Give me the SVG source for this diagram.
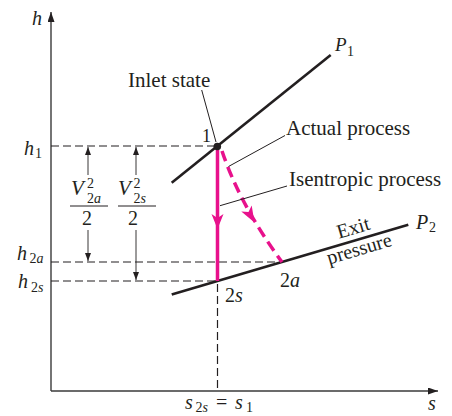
<svg xmlns="http://www.w3.org/2000/svg" width="452" height="416" viewBox="0 0 452 416">
<style>
text{font-family:"Liberation Serif","Times New Roman",serif;fill:#231f20}
.lbl{font-size:21px}
.m{font-size:20px}
.i{font-style:italic}
.sub{font-size:14px}
.axis{stroke:#3a3a3a;stroke-width:1.4;fill:none}
.dash{stroke:#231f20;stroke-width:1.2;stroke-dasharray:8 4;fill:none}
.iso{stroke:#231f20;stroke-width:2.6;fill:none}
.lead{stroke:#231f20;stroke-width:1;fill:none}
.mg{stroke:#e8118c;stroke-width:3.5;fill:none}
.mgd{stroke:#e8118c;stroke-width:3.5;fill:none;stroke-dasharray:11 6}
.mgf{fill:#e8118c}
.dim{stroke:#231f20;stroke-width:0.9;fill:none}
.bar{stroke:#231f20;stroke-width:1}
</style>
<defs>
<marker id="ax" viewBox="0 0 10 7" refX="10" refY="3.5" markerWidth="10" markerHeight="7" markerUnits="userSpaceOnUse" orient="auto">
<path d="M0,0 L10,3.5 L0,7 Z" fill="#231f20"/>
</marker>
<marker id="da" viewBox="0 0 8 6" refX="8" refY="3" markerWidth="8" markerHeight="6" markerUnits="userSpaceOnUse" orient="auto">
<path d="M0,0 L8,3 L0,6 Z" fill="#231f20"/>
</marker>
</defs>

<g id="axes">
<line class="axis" x1="51" y1="391" x2="51" y2="12" marker-end="url(#ax)"/>
<line class="axis" x1="51" y1="391" x2="438" y2="391" marker-end="url(#ax)"/>
<text class="m i" x="32" y="25">h</text>
<text class="m i" x="428" y="410">s</text>
<text class="m"><tspan class="i" x="185" y="408.5">s</tspan><tspan class="sub" x="195.5" y="412">2</tspan><tspan class="sub i" y="412">s</tspan><tspan x="216" y="408.5">=</tspan><tspan class="i" x="235" y="408.5">s</tspan><tspan class="sub" x="246" y="412">1</tspan></text>
</g>

<g id="guides">
<line class="dash" x1="51" y1="146" x2="214" y2="146"/>
<line class="dash" x1="51" y1="262" x2="282" y2="262"/>
<line class="dash" x1="51" y1="281" x2="217" y2="281"/>
<line class="dash" x1="217.5" y1="284" x2="217.5" y2="391"/>
<text class="m i" x="24" y="155">h</text><text class="sub" x="35" y="158">1</text>
<text class="m i" x="17" y="260">h</text><text class="sub" x="29.5" y="263">2<tspan class="i">a</tspan></text>
<text class="m i" x="18" y="288">h</text><text class="sub" x="31" y="292">2<tspan class="i">s</tspan></text>
</g>

<g id="velocity-2a">
<line class="dim" x1="88" y1="175" x2="88" y2="147" marker-end="url(#da)"/>
<line class="dim" x1="88" y1="230" x2="88" y2="261" marker-end="url(#da)"/>
<text class="lbl i" x="71" y="195">V</text>
<text class="sub" x="87" y="188">2</text>
<text class="sub" x="87" y="202.5">2<tspan class="i">a</tspan></text>
<line class="bar" x1="70" y1="206" x2="108" y2="206"/>
<text class="m" x="87" y="225" text-anchor="middle">2</text>
</g>

<g id="velocity-2s">
<line class="dim" x1="136" y1="175" x2="136" y2="147" marker-end="url(#da)"/>
<line class="dim" x1="136" y1="230" x2="136" y2="280" marker-end="url(#da)"/>
<text class="lbl i" x="118" y="195">V</text>
<text class="sub" x="133.5" y="188">2</text>
<text class="sub" x="133.5" y="202.5">2<tspan class="i">s</tspan></text>
<line class="bar" x1="118" y1="206" x2="156" y2="206"/>
<text class="m" x="133" y="225" text-anchor="middle">2</text>
</g>

<g id="isobar-P1">
<line class="iso" x1="171.7" y1="182.7" x2="330.7" y2="55"/>
<text class="m i" x="335" y="50.5" style="font-size:19px">P</text><text class="sub" x="347" y="56">1</text>
</g>

<g id="isobar-P2">
<line class="iso" x1="171.7" y1="294.5" x2="408.3" y2="224.8"/>
<text class="m i" x="416" y="229">P</text><text class="sub" x="429" y="232">2</text>
<text class="m" transform="translate(355,234) rotate(-16.4)" text-anchor="middle">Exit</text>
<text class="m" transform="translate(361,255) rotate(-16.4)" text-anchor="middle">pressure</text>
</g>

<g id="connectors">
<line class="mg" x1="217.5" y1="150" x2="217.5" y2="281"/>
<polygon class="mgf" points="217.5,229 211.5,214 217.5,218 223.5,214"/>
<path class="mgd" d="M222,151 Q240,205 282,262"/>
<polygon class="mgf" points="254.5,222.5 251.7,205.6 248.5,212.1 241.3,211.6"/>
<line class="lead" x1="201.7" y1="90" x2="216" y2="142"/>
<line class="lead" x1="228.5" y1="166.5" x2="285" y2="135.5"/>
<line class="lead" x1="220" y1="205.7" x2="287" y2="186"/>
</g>

<g id="state-1">
<circle cx="217.3" cy="146.5" r="3.8" fill="#231f20"/>
<text style="font-size:18px" x="202" y="141.5">1</text>
<text class="lbl" x="128" y="86.5">Inlet state</text>
</g>

<g id="labels">
<text class="lbl" x="286" y="135">Actual process</text>
<text class="lbl" x="289" y="185.5">Isentropic process</text>
</g>

<g id="state-2s">
<text class="m" x="225" y="301.5">2<tspan class="i">s</tspan></text>
</g>

<g id="state-2a">
<text class="m" x="280" y="287">2<tspan class="i">a</tspan></text>
</g>
</svg>
